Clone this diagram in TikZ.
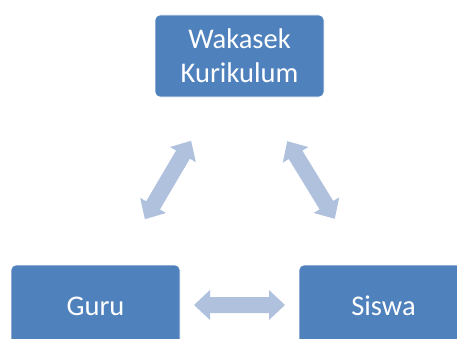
\documentclass[tikz,border=0pt]{standalone}
\usepackage{fontspec}
\setmainfont{Carlito}
\definecolor{boxblue}{RGB}{79,129,189}
\definecolor{arrowblue}{RGB}{176,193,222}
\tikzset{
  box/.style={draw=white, line width=0.6pt, fill=boxblue, rounded corners=5pt, minimum width=169pt, minimum height=82pt, inner sep=0pt, text=white, align=center, font=\fontsize{28.5}{34}\selectfont},
  dbl/.style={fill=arrowblue}
}
\newcommand{\dblarrow}[3]{%
  \begin{scope}[shift={(#1,#2)}, rotate=#3]
    \fill[dbl] (-45.5,0)--(-29.5,15)--(-29.5,8)--(29.5,8)--(29.5,15)--(45.5,0)--(29.5,-15)--(29.5,-8)--(-29.5,-8)--(-29.5,-15)--cycle;
  \end{scope}}
\begin{document}
\begin{tikzpicture}[x=1pt,y=1pt]
  \useasboundingbox (0,0) rectangle (457,338);
  \clip (0,0) rectangle (457,338);
  \node[box] (wk) at (239.5,282) {Wakasek\\Kurikulum};
  \node[box] (guru) at (95.5,32) {Guru};
  \node[box] (siswa) at (383.5,32) {Siswa};
  \dblarrow{168}{158}{59.5}
  \dblarrow{311}{158}{-58.5}
  \dblarrow{239.5}{33}{0}
\end{tikzpicture}
\end{document}
